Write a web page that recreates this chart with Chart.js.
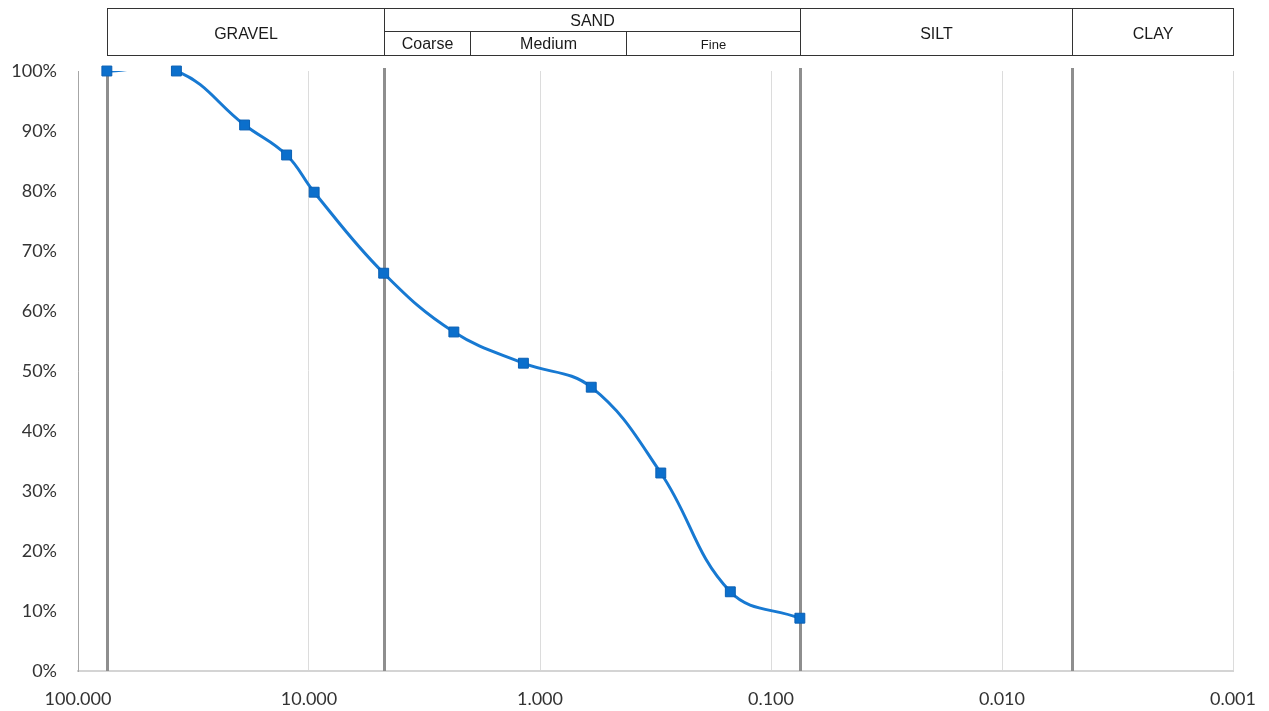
<!DOCTYPE html>
<html>
<head>
<meta charset="utf-8">
<title>Particle Size Distribution</title>
<script src="https://cdn.jsdelivr.net/npm/chart.js@4/dist/chart.umd.min.js"></script>
<style>
  html, body { margin: 0; padding: 0; background: #ffffff; }
  #wrap { width: 1269px; height: 711px; }
</style>
</head>
<body>
<div id="wrap"><canvas id="psd" width="1269" height="711"></canvas></div>
<script>
// Sieve sizes (mm) and cumulative percent passing
const sieveSizes = [75, 37.5, 19, 12.5, 9.5, 4.75, 2.36, 1.18, 0.6, 0.3, 0.15, 0.075];
const percentPassing = [100, 100, 91, 86, 79.8, 66.3, 56.5, 51.3, 47.3, 33, 13.2, 8.8];

// Axis ticks
const sizeTicks = [100, 10, 1, 0.1, 0.01, 0.001];
const percentTicks = [0, 10, 20, 30, 40, 50, 60, 70, 80, 90, 100];

// Soil classification bands (mm)
const zoneNames = ['GRAVEL', 'SAND', 'SILT', 'CLAY'];
const zoneBounds = [75, 4.75, 0.075, 0.005, 0.001];
const sandNames = ['Coarse', 'Medium', 'Fine'];
const sandBounds = [4.75, 2, 0.425, 0.075];
const boundaryLines = [75, 4.75, 0.075, 0.005];

const points = sieveSizes.map((d, i) => ({ x: d, y: percentPassing[i] }));

const LINE_BLUE = '#1779d2';
const MARK_BLUE = '#0b6fcc';

// Heavy grey lines at class boundaries, drawn under the curve
const boundaryPlugin = {
  id: 'boundaries',
  beforeDatasetsDraw(chart) {
    const { ctx, chartArea, scales: { x } } = chart;
    ctx.save();
    ctx.strokeStyle = '#8e8e8e';
    ctx.lineWidth = 3;
    boundaryLines.forEach(v => {
      const px = Math.round(x.getPixelForValue(v)) + 0.5;
      ctx.beginPath();
      ctx.moveTo(px, chartArea.top - 3);
      ctx.lineTo(px, chartArea.bottom);
      ctx.stroke();
    });
    ctx.restore();
  }
};

// Classification header table above the plot
const headerPlugin = {
  id: 'header',
  afterDraw(chart) {
    const { ctx, scales: { x } } = chart;
    const top = 8, mid = 31, bottom = 55;
    const px = v => Math.round(x.getPixelForValue(v)) + 0.5;
    const font = size => size + 'px "Liberation Sans", Arial, sans-serif';
    ctx.save();
    ctx.strokeStyle = '#333333';
    ctx.lineWidth = 1;
    ctx.fillStyle = '#1a1a1a';
    ctx.textAlign = 'center';
    ctx.textBaseline = 'middle';

    for (let i = 0; i < zoneNames.length; i++) {
      const x0 = px(zoneBounds[i]);
      const x1 = px(zoneBounds[i + 1]);
      ctx.strokeRect(x0, top + 0.5, x1 - x0, bottom - top);
      ctx.font = font(16);
      if (zoneNames[i] === 'SAND') {
        ctx.fillText(zoneNames[i], (x0 + x1) / 2, (top + mid) / 2 + 2);
        ctx.beginPath();
        ctx.moveTo(x0, mid + 0.5);
        ctx.lineTo(x1, mid + 0.5);
        ctx.stroke();
      } else {
        ctx.fillText(zoneNames[i], (x0 + x1) / 2, (top + bottom) / 2 + 3);
      }
    }

    for (let i = 0; i < sandNames.length; i++) {
      const x0 = px(sandBounds[i]);
      const x1 = px(sandBounds[i + 1]);
      if (i > 0) {
        ctx.beginPath();
        ctx.moveTo(x0, mid + 0.5);
        ctx.lineTo(x0, bottom + 0.5);
        ctx.stroke();
      }
      ctx.font = sandNames[i] === 'Fine' ? font(13) : font(16);
      ctx.fillText(sandNames[i], (x0 + x1) / 2, (mid + bottom) / 2 + 2);
    }
    ctx.restore();
  }
};

new Chart(document.getElementById('psd'), {
  type: 'line',
  data: {
    datasets: [
      {
        label: 'Percent passing',
        data: points,
        borderColor: LINE_BLUE,
        borderWidth: 3,
        pointRadius: 0,
        tension: 0.4,
        fill: false,
        order: 2
      },
      {
        label: 'Sieve results',
        data: points,
        showLine: false,
        pointStyle: 'rect',
        pointRadius: 7,
        backgroundColor: MARK_BLUE,
        borderColor: '#0a5fb3',
        borderWidth: 1,
        clip: false,
        order: 1
      }
    ]
  },
  options: {
    responsive: false,
    animation: false,
    devicePixelRatio: 1,
    layout: { padding: { top: 71, right: 36, left: 0, bottom: 0 } },
    elements: { line: { capBezierPoints: false } },
    plugins: {
      legend: { display: false },
      tooltip: { enabled: false }
    },
    scales: {
      x: {
        type: 'logarithmic',
        min: 0.001,
        max: 100,
        reverse: true,
        afterBuildTicks: s => { s.ticks = sizeTicks.map(v => ({ value: v })); },
        afterFit: s => { s.height = 40; s.paddingLeft = 0; s.paddingRight = 0; },
        ticks: {
          autoSkip: false,
          maxRotation: 0,
          padding: 17,
          color: '#333333',
          font: { family: 'Lato, "Liberation Sans", sans-serif', size: 18 },
          callback: v => Number(v).toFixed(3)
        },
        grid: { color: '#dcdcdc', lineWidth: 1, drawTicks: false },
        border: { display: true, color: '#d4d4d4', width: 2 }
      },
      y: {
        type: 'linear',
        min: 0,
        max: 100,
        afterBuildTicks: s => { s.ticks = percentTicks.map(v => ({ value: v })); },
        afterFit: s => { s.width = 78; },
        ticks: {
          padding: 21,
          color: '#333333',
          font: { family: 'Lato, "Liberation Sans", sans-serif', size: 18 },
          callback: v => v + '%'
        },
        grid: { display: false, drawTicks: false },
        border: { display: true, color: '#a6a6a6', width: 1 }
      }
    }
  },
  plugins: [boundaryPlugin, headerPlugin]
});
</script>
</body>
</html>
